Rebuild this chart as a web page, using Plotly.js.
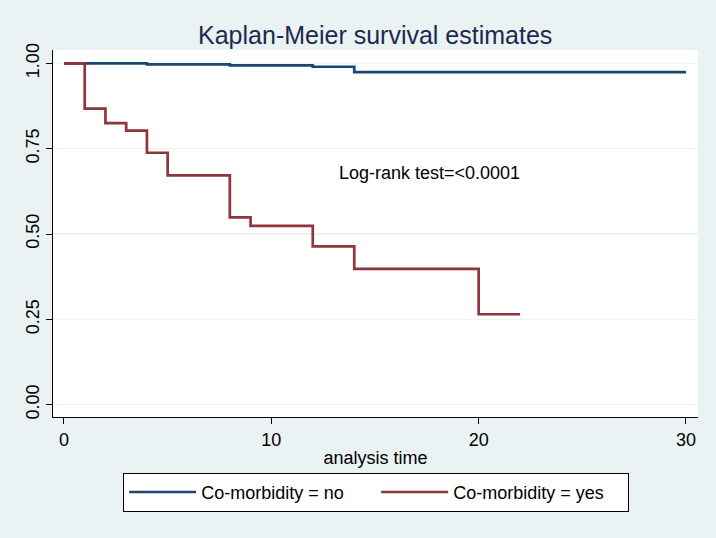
<!DOCTYPE html>
<html>
<head>
<meta charset="utf-8">
<script src="https://cdn.plot.ly/plotly-3.0.1.min.js"></script>
<style>html,body{margin:0;padding:0;background:#eaf2f3;}#chart{width:716px;height:538px;}</style>
</head>
<body>
<div id="chart"></div>
<script>
var timeNo = [0, 4, 8, 12, 14, 30];
var survNo = [1.0, 0.997, 0.994, 0.990, 0.974, 0.974];
var timeYes = [0, 1, 2, 3, 4, 5, 8, 9, 12, 14, 20, 22];
var survYes = [1.0, 0.867, 0.825, 0.803, 0.738, 0.672, 0.549, 0.524, 0.464, 0.398, 0.265, 0.265];
var seriesNames = ["Co-morbidity = no", "Co-morbidity = yes"];
var yTicks = [0, 0.25, 0.5, 0.75, 1.0];
var yTickText = ["0.00", "0.25", "0.50", "0.75", "1.00"];
var xTicks = [0, 10, 20, 30];
var annotationText = "Log-rank test=<0.0001";

var font = "Arial, 'Liberation Sans', sans-serif";

var traces = [
  {x: timeNo, y: survNo, name: seriesNames[0], mode: "lines",
   line: {shape: "hv", color: "#1a476f", width: 2.7}},
  {x: timeYes, y: survYes, name: seriesNames[1], mode: "lines",
   line: {shape: "hv", color: "#90353b", width: 2.7}}
];

var layout = {
  width: 716, height: 538,
  paper_bgcolor: "#eaf2f3",
  plot_bgcolor: "#ffffff",
  margin: {l: 53, r: 18, t: 50, b: 121},
  title: {text: "Kaplan-Meier survival estimates", x: 0.524, xanchor: "center", y: 0.935, yanchor: "middle",
          font: {family: font, size: 25, color: "#1c2a4e"}},
  xaxis: {range: [-0.53, 30.58], tickvals: xTicks, showgrid: false, zeroline: false,
          showline: true, linecolor: "#000", linewidth: 1, ticks: "outside", ticklen: 6, tickcolor: "#000",
          tickfont: {family: font, size: 18, color: "#000"},
          title: {text: "analysis time", font: {family: font, size: 18, color: "#000"}, standoff: 2}},
  yaxis: {range: [-0.036, 1.039], tickvals: yTicks, ticktext: yTickText, tickangle: -90,
          showgrid: true, gridcolor: "#eaf2f3", gridwidth: 1.5, zeroline: false,
          showline: true, linecolor: "#000", linewidth: 1, ticks: "outside", ticklen: 6, tickcolor: "#000",
          tickfont: {family: font, size: 18, color: "#000"}},
  showlegend: true,
  legend: {orientation: "h", x: 0.501, xanchor: "center", y: -0.152, yanchor: "top",
           bgcolor: "#ffffff", bordercolor: "#000", borderwidth: 1, itemwidth: 67,
           entrywidth: 170, entrywidthmode: "pixels",
           font: {family: font, size: 18, color: "#000"}},
  annotations: [{x: 17.65, y: 0.679, xref: "x", yref: "y", text: annotationText, showarrow: false,
                 font: {family: font, size: 18, color: "#000"}}]
};

Plotly.newPlot("chart", traces, layout, {displayModeBar: false, staticPlot: true});
</script>
</body>
</html>
